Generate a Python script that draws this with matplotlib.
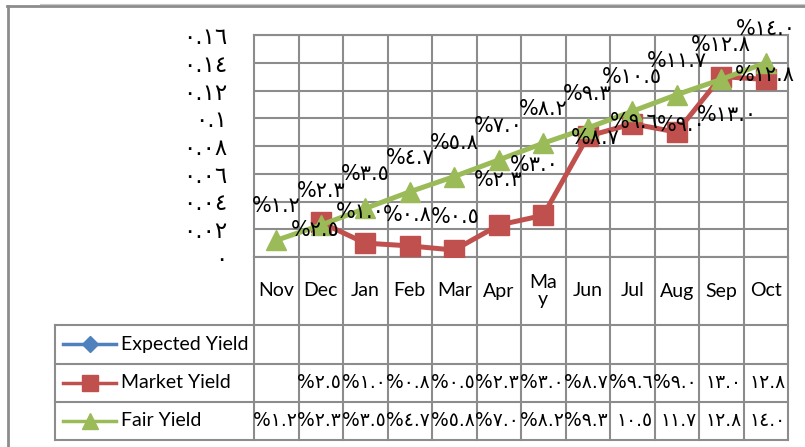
import numpy as np
import matplotlib
matplotlib.use("Agg")
import matplotlib.pyplot as plt
from matplotlib.transforms import blended_transform_factory

# ---- data -------------------------------------------------------------
months = ["Nov", "Dec", "Jan", "Feb", "Mar", "Apr", "May", "Jun", "Jul", "Aug", "Sep", "Oct"]
month_labels = ["Nov", "Dec", "Jan", "Feb", "Mar", "Apr", "Ma\ny", "Jun", "Jul", "Aug", "Sep", "Oct"]
series_names = ["Expected Yield", "Market Yield", "Fair Yield"]
nan = np.nan
expected_yield = [nan, nan, nan, nan, nan, nan, nan, nan, nan, nan, nan, 0.128]
market_yield = [nan, 0.025, 0.010, 0.008, 0.005, 0.023, 0.030, 0.087, 0.096, 0.090, 0.130, 0.128]
fair_yield = [0.012, 0.023, 0.035, 0.047, 0.058, 0.070, 0.082, 0.093, 0.105, 0.117, 0.128, 0.140]
y_ticks = [0, 0.02, 0.04, 0.06, 0.08, 0.10, 0.12, 0.14, 0.16]

# ---- style ------------------------------------------------------------
BLUE, RED, GREEN = "#4F81BD", "#C0504D", "#9BBB59"
GRID = "#8c8c8c"
LATIN = ["Lato", "DejaVu Sans"]
ARABIC = ["DejaVu Sans"]
# label offsets (pixels) for the market-yield data labels
market_offsets = [(0, 0), (-6, -8), (-5, 31), (-2, 31), (1, 33), (-1, 45), (-9, 50),
                  (8, -2), (2, 2), (4, 7), (6, -38), (-1, 4)]
fair_offset = (0, 34)

AR = str.maketrans("0123456789", "٠١٢٣٤٥٦٧٨٩")


def ar(s):
    return s.translate(AR)


def pct_label(v):
    return "%" + ar(f"{v * 100:.1f}")


def table_label(v):
    p = v * 100
    return ("%" if p < 10 else "") + ar(f"{p:.1f}")


W, H = 805, 447
fig = plt.figure(figsize=(W / 100, H / 100), dpi=100)
fig.patch.set_facecolor("white")

# overlay in pixel coordinates for the frame and data table
ov = fig.add_axes([0, 0, 1, 1], zorder=0)
ov.set_xlim(0, W)
ov.set_ylim(H, 0)
ov.axis("off")

L, R, T, B = 254, 788, 35, 257
ax = fig.add_axes([L / W, 1 - B / H, (R - L) / W, (B - T) / H], zorder=1)
ax.patch.set_alpha(0)

x = np.arange(len(months))
ax.plot(x, expected_yield, color=BLUE, lw=2.5, marker="D", ms=9, zorder=3)
ax.plot(x, market_yield, color=RED, lw=3.6, marker="s", ms=14, zorder=4)
ax.plot(x, fair_yield, color=GREEN, lw=3.6, marker="^", ms=15, zorder=5)

ax.set_xlim(-0.5, len(months) - 0.5)
ax.set_ylim(0, 0.16)
ax.set_yticks(y_ticks)
ax.set_yticklabels([ar(f"{v:g}") for v in y_ticks], family=ARABIC, fontsize=16.5)
ax.set_xticks([])
ax.set_xticks(np.arange(0.5, len(months) - 0.5, 1), minor=True)
ax.tick_params(axis="both", which="both", length=0)
ax.tick_params(axis="y", pad=19.5)
ax.grid(True, axis="y", which="major", color=GRID, lw=1.5)
ax.grid(True, axis="x", which="minor", color=GRID, lw=1.5)
ax.set_axisbelow(True)
for sp in ax.spines.values():
    sp.set_color(GRID)
    sp.set_linewidth(1.5)

# data labels
for i, v in enumerate(fair_yield):
    ax.annotate(pct_label(v), (i, v), xytext=fair_offset, textcoords="offset pixels",
                ha="center", va="center", fontsize=15, family=ARABIC, zorder=6)
for i, v in enumerate(market_yield):
    if np.isnan(v):
        continue
    ax.annotate(pct_label(v), (i, v), xytext=market_offsets[i], textcoords="offset pixels",
                ha="center", va="center", fontsize=15, family=ARABIC, zorder=6)

# outer frame
ov.plot([40, W], [4, 4], color="#c8c8c8", lw=0.8)
ov.plot([7, W], [6, 6], color=GRID, lw=2)
ov.plot([8, 8], [6, H], color=GRID, lw=2)

# data table
bt = blended_transform_factory(ax.transData, ov.transData)
rows_y = [325, 363.5, 402, 440]
for i in range(len(months) + 1):
    ov.plot([i - 0.5, i - 0.5], [B, rows_y[-1]], color=GRID, lw=1.5, transform=bt)
for yy in rows_y:
    ov.plot([55, R], [yy, yy], color=GRID, lw=1.5)
ov.plot([55, 55], [rows_y[0], rows_y[-1]], color=GRID, lw=1.5)

for i, lab in enumerate(month_labels):
    ov.text(i, (B + rows_y[0]) / 2, lab, transform=bt, ha="center", va="center",
            fontsize=14, family=LATIN, linespacing=1.0)

row_centers = [(rows_y[k] + rows_y[k + 1]) / 2 for k in range(3)]
styles = [(BLUE, "D", 8), (RED, "s", 12), (GREEN, "^", 11)]
for name, yc, (col, mk, ms) in zip(series_names, row_centers, styles):
    ov.plot([63, 116], [yc, yc], color=col, lw=2.5)
    ov.plot([89.5], [yc], color=col, marker=mk, ms=ms, ls="none")
    ov.text(121, yc, name, ha="left", va="center", fontsize=14, family=LATIN)

for yc, values in zip(row_centers, [expected_yield, market_yield, fair_yield]):
    for i, v in enumerate(values):
        if np.isnan(v) or values is expected_yield:
            continue
        ov.annotate(table_label(v), (i + 0.5, yc), xycoords=bt, xytext=(-2, 0),
                    textcoords="offset pixels", ha="right", va="center",
                    fontsize=13.5, family=ARABIC)

fig.savefig("out.png", dpi=100, facecolor="white")
